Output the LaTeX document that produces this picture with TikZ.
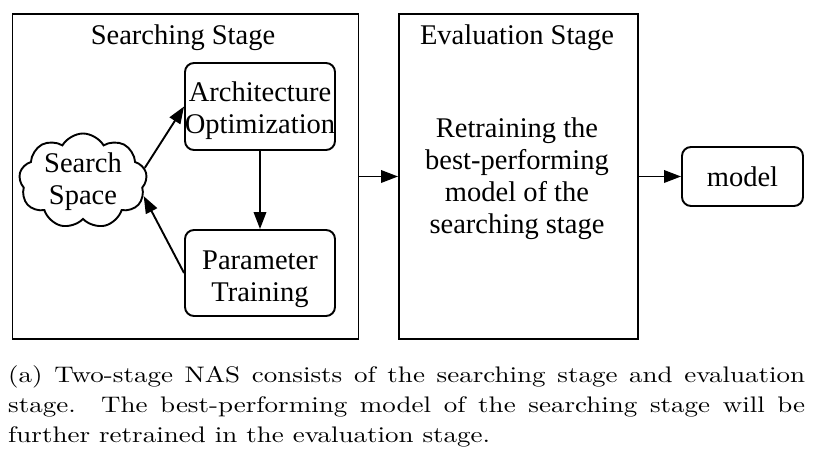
\documentclass[tikz,border=0pt]{standalone}
\usepackage{fontspec}
\newfontfamily\tms{Liberation Serif}
\newfontfamily\capfont{lmroman10-regular}[Extension=.otf,FakeStretch=1.2]
\usetikzlibrary{shapes.symbols,arrows.meta}
\begin{document}
\begin{tikzpicture}[x=1pt,y=-1pt,
  stage/.style={draw,line width=1.9pt,minimum width=#1,minimum height=325pt,inner sep=0pt},
  rbox/.style={draw,line width=1.9pt,rounded corners=9pt,inner sep=0pt},
  lbl/.style={inner sep=0pt,align=center,font=\tms\fontsize{28.5}{32}\selectfont},
  conn/.style={line width=1.9pt,-{Triangle[length=17pt,width=12.5pt]}}]
\useasboundingbox (0,0) rectangle (815,454);
\node[stage=346pt] (search) at (185.5,176.5) {};
\node[stage=239pt] (eval) at (518.5,176.5) {};
\node[lbl,anchor=base] (stitle) at (183,45) {Searching Stage};
\node[lbl,anchor=base] (etitle) at (517,45) {Evaluation Stage};
\node[rbox,minimum width=150pt,minimum height=87pt] (arch) at (260,106.5) {};
\node[lbl] (archt) at (260,111) {Architecture\\Optimization};
\node[rbox,minimum width=150pt,minimum height=86pt] (param) at (260,273) {};
\node[lbl] (paramt) at (260,279) {Parameter\\Training};
\node[draw,line width=1.9pt,cloud,cloud puffs=9,cloud puff arc=120,aspect=1.3,minimum width=128pt,minimum height=95pt,inner sep=0pt] (cloud) at (83,181) {};
\node[lbl] (cloudt) at (83,182) {Search\\Space};
\node[lbl] (etext) at (517,179) {Retraining the\\best-performing\\model of the\\searching stage};
\node[rbox,minimum width=121pt,minimum height=59pt] (model) at (742.5,176.5) {};
\node[lbl] (modelt) at (742.5,176.5) {model};
\draw[conn] (cloud.12) -- (arch.west);
\draw[conn] (arch.south) -- (param.north);
\draw[conn] (param.west) -- (cloud.-14);
\draw[conn] (search.east) -- (eval.west);
\draw[conn] (eval.east) -- (model.west);
\node[anchor=north west,inner sep=0pt,text width=797pt,align=justify,font=\capfont\fontsize{22.5}{30}\selectfont] (cap) at (8,365) {(a) Two-stage NAS consists of the searching stage and evaluation\linebreak stage.\ \ The best-performing model of the searching stage will be\linebreak further retrained in the evaluation stage.};
\end{tikzpicture}
\end{document}
